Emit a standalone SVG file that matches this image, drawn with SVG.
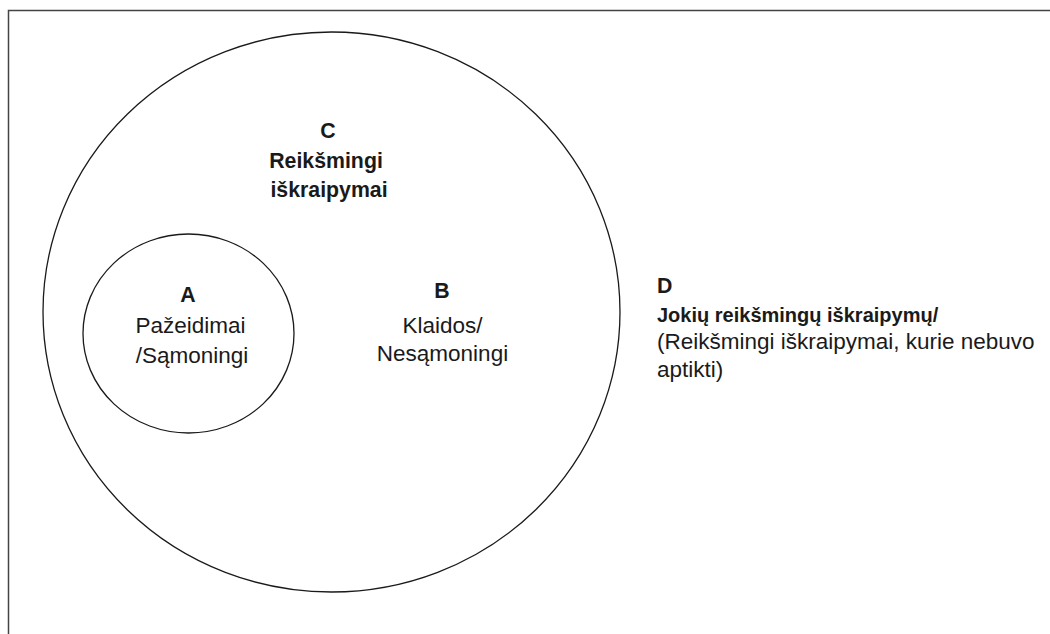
<svg xmlns="http://www.w3.org/2000/svg" width="1050" height="634" viewBox="0 0 1050 634">
<style>
.t{font-family:"Liberation Sans",Arial,sans-serif;font-size:22.5px;fill:#1a1a1a}
.b{font-weight:bold;font-size:21.3px}
.d{font-size:20px}
.m{text-anchor:middle}
.sh{fill:none;stroke:#1a1a1a;stroke-width:1.3}
</style>
<rect x="0" y="0" width="1050" height="634" fill="#ffffff"/>
<rect x="8.5" y="10.5" width="1100" height="700" fill="none" stroke="#444" stroke-width="1.5"/>
<g id="connectors"></g>
<g id="nodeC">
<ellipse class="sh" cx="331.5" cy="312" rx="288.5" ry="280"/>
<text class="t b m" x="328" y="138">C</text>
<text class="t b m" x="326" y="168">Reikšmingi</text>
<text class="t b m" x="329" y="197">iškraipymai</text>
</g>
<g id="nodeA">
<ellipse class="sh" cx="188.5" cy="333.5" rx="105.5" ry="99.5"/>
<text class="t b m" x="188" y="302">A</text>
<text class="t m" x="190.5" y="333">Pažeidimai</text>
<text class="t m" x="192" y="363">/Sąmoningi</text>
</g>
<g id="nodeB">
<text class="t b m" x="442" y="298">B</text>
<text class="t m" x="442.5" y="333">Klaidos/</text>
<text class="t m" x="442.5" y="361">Nesąmoningi</text>
</g>
<g id="nodeD">
<text class="t b" x="657" y="293">D</text>
<text class="t b d" x="657" y="322">Jokių reikšmingų iškraipymų/</text>
<text class="t" x="657" y="349">(Reikšmingi iškraipymai, kurie nebuvo</text>
<text class="t" x="657" y="377">aptikti)</text>
</g>
</svg>
